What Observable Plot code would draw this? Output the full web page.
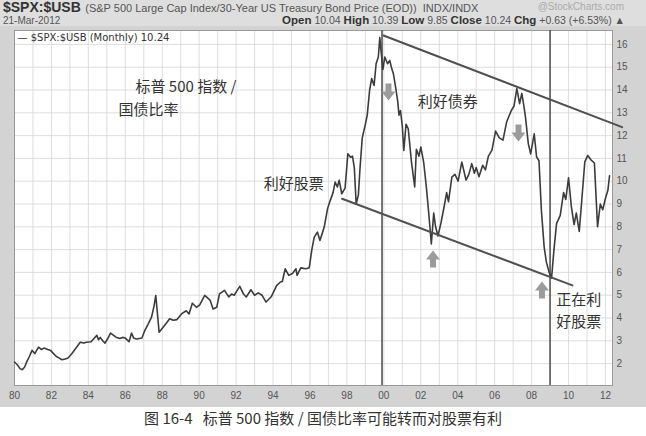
<!DOCTYPE html>
<html>
<head>
<meta charset="utf-8">
<script src="https://cdn.jsdelivr.net/npm/d3@7"></script>
<script src="https://cdn.jsdelivr.net/npm/@observablehq/plot@0.6"></script>
<style>
  html, body { margin: 0; padding: 0; background: #fff; }
  #page { position: relative; width: 646px; height: 436px; overflow: hidden; background: #fff; }
  #hdr { position: absolute; left: 0; top: 0; width: 646px; height: 26px; background: #dedede; font-family: "Liberation Sans", Arial, sans-serif; color: #444; }
  .l1 { position: absolute; left: 3px; top: -1px; height: 15px; line-height: 15px; white-space: nowrap; }
  .sym { font: bold 14px "Liberation Sans Narrow", "Liberation Sans", sans-serif; color: #333; line-height: 15px; }
  .desc { font-size: 11px; color: #555; line-height: 15px; }
  .brand { position: absolute; right: 22px; top: 1px; font-size: 10px; line-height: 12px; color: #aaa; white-space: nowrap; }
  .l2 { position: absolute; left: 3px; top: 16px; font-size: 10px; line-height: 10px; color: #555; white-space: nowrap; }
  .l2r { position: absolute; right: 21px; top: 15px; font-size: 10.5px; line-height: 11px; color: #555; white-space: nowrap; }
  .l2r b { font-size: 11.5px; color: #333; }
  #chart { position: absolute; left: 0; top: 26px; }
  #cap { position: absolute; left: 0; top: 407px; width: 646px; text-align: center; font-family: "Noto Sans CJK SC", sans-serif; font-size: 15px; color: #333; white-space: pre; }
</style>
</head>
<body>
<div id="page">
  <div id="hdr">
    <div class="l1"><span class="sym">$SPX:$USB</span> <span class="desc">(S&amp;P 500 Large Cap Index/30-Year US Treasury Bond Price (EOD))&nbsp;&nbsp;INDX/INDX</span></div>
    <div class="brand">@StockCharts.com</div>
    <div class="l2">21-Mar-2012</div>
    <div class="l2r"><b>Open</b> 10.04 <b>High</b> 10.39 <b>Low</b> 9.85 <b>Close</b> 10.24 <b>Chg</b> +0.63 (+6.53%) ▲</div>
  </div>
  <div id="chart"></div>
  <div id="cap">图 16-4   标普 500 指数 / 国债比率可能转而对股票有利</div>
</div>
<script>
// ---- data (decimal year, ratio) ----
const years = [
  1980.00,1980.15,1980.30,1980.42,1980.55,1980.65,1980.80,1980.95,1981.10,1981.30,1981.45,1981.60,1981.80,1981.95,
  1982.10,1982.25,1982.40,1982.57,1982.75,1982.90,1983.10,1983.30,1983.56,1983.75,1983.90,1984.15,1984.30,1984.46,
  1984.55,1984.64,1984.80,1984.90,1985.05,1985.20,1985.35,1985.50,1985.70,1985.85,1986.00,1986.20,1986.34,1986.45,
  1986.60,1986.90,1987.06,1987.25,1987.42,1987.55,1987.65,1987.75,1987.83,1988.05,1988.25,1988.40,1988.60,1988.80,
  1989.04,1989.30,1989.45,1989.63,1989.85,1990.03,1990.30,1990.50,1990.60,1990.75,1990.95,1991.10,1991.37,1991.60,
  1991.75,1991.90,1992.05,1992.20,1992.40,1992.55,1992.80,1993.00,1993.20,1993.40,1993.62,1993.90,1994.20,1994.40,
  1994.50,1994.66,1994.85,1995.05,1995.24,1995.30,1995.50,1995.78,1995.96,1996.10,1996.23,1996.40,1996.54,1996.77,
  1996.95,1997.10,1997.25,1997.36,1997.48,1997.58,1997.72,1997.90,1998.05,1998.20,1998.30,1998.40,1998.50,1998.62,
  1998.70,1998.83,1999.00,1999.10,1999.23,1999.34,1999.47,1999.58,1999.70,1999.78,1999.85,1999.95,2000.05,2000.20,
  2000.32,2000.42,2000.52,2000.65,2000.75,2000.82,2000.90,2001.00,2001.08,2001.20,2001.32,2001.50,2001.67,2001.76,
  2001.90,2002.00,2002.16,2002.30,2002.43,2002.57,2002.70,2002.80,2002.93,2003.10,2003.29,2003.40,2003.50,2003.68,
  2003.85,2004.02,2004.22,2004.45,2004.60,2004.76,2004.90,2005.00,2005.15,2005.35,2005.50,2005.66,2005.85,2006.05,
  2006.25,2006.45,2006.65,2006.90,2007.05,2007.20,2007.35,2007.47,2007.58,2007.67,2007.82,2007.95,2008.14,2008.27,
  2008.40,2008.53,2008.68,2008.80,2008.95,2009.08,2009.20,2009.35,2009.55,2009.73,2009.85,2010.00,2010.15,2010.30,
  2010.42,2010.58,2010.70,2010.88,2011.04,2011.20,2011.40,2011.57,2011.72,2011.85,2012.00,2012.13,2012.22
];
const ratio = [
  2.07,1.95,1.78,1.73,1.85,2.05,2.30,2.58,2.44,2.72,2.62,2.68,2.62,2.58,
  2.45,2.32,2.25,2.17,2.20,2.25,2.43,2.65,2.94,2.90,2.94,2.96,3.10,3.24,
  3.05,3.15,2.98,2.90,3.10,3.34,3.25,3.16,3.10,3.15,3.12,2.96,3.34,3.12,
  3.08,3.12,3.46,3.75,4.04,4.50,4.99,4.10,3.38,3.60,3.80,3.97,3.90,3.93,
  4.18,4.32,4.18,4.65,4.47,4.58,4.99,4.85,4.77,4.40,4.47,5.06,5.21,4.93,
  5.05,5.00,5.20,5.39,5.05,4.92,5.24,5.00,5.10,5.00,4.70,4.93,5.43,5.58,
  5.60,6.16,5.87,5.95,6.16,5.87,6.20,6.16,6.20,7.00,7.55,7.77,7.40,7.99,
  8.79,9.16,9.50,9.96,9.75,10.04,9.45,9.70,11.20,11.05,11.10,10.60,9.00,9.40,
  10.47,11.90,12.50,12.90,14.00,14.50,14.20,15.15,15.45,16.30,15.70,14.90,15.45,15.15,
  15.30,14.95,14.70,14.05,13.50,12.90,13.10,12.40,11.35,12.50,12.30,10.80,9.75,11.40,
  11.10,11.50,10.80,9.75,8.60,7.25,8.60,8.00,7.60,8.20,9.00,9.50,9.10,10.18,
  10.30,10.00,10.84,10.05,10.30,10.77,10.35,10.60,10.20,10.70,10.50,11.10,11.35,12.20,
  11.90,11.80,12.60,13.10,13.30,14.06,13.40,13.85,13.30,12.80,11.65,11.20,12.08,11.06,
  10.90,8.72,7.11,6.45,6.00,5.75,6.90,8.14,8.50,9.50,9.20,10.15,8.90,8.10,
  8.60,7.80,9.00,10.85,11.13,10.95,10.80,8.00,9.00,8.75,9.25,9.60,10.24
];

// axis ticks
const xTickYears = [1980,1982,1984,1986,1988,1990,1992,1994,1996,1998,2000,2002,2004,2006,2008,2010,2012];
const xGridYears = d3.range(1980, 2013);
const yTicks = [2,3,4,5,6,7,8,9,10,11,12,13,14,15,16];

// regime boundaries (vertical lines)
const boundaries = [1999.9, 2009.0];

// trend channel lines
const upperTrendX = [1999.98, 2012.90];
const upperTrendY = [16.39, 12.37];
const lowerTrendX = [1997.74, 2010.21];
const lowerTrendY = [9.23, 5.43];

// arrows
const downArrowX = [2000.25, 2007.29];
const downArrowY = [13.89, 12.09];
const upArrowX = [2002.66, 2008.56];
const upArrowY = [6.61, 5.25];

// annotation labels
const noteText = ["标普 500 指数 /", "国债比率", "利好债券", "利好股票", "正在利", "好股票"];
const noteX = [1986.55, 1985.63, 2001.84, 1993.50, 2009.34, 2009.34];
const noteY = [14.12, 13.10, 13.47, 9.89, 4.77, 3.80];

const legendText = "— $SPX:$USB (Monthly) 10.24";

// ---- build tables ----
const series = years.map((t, i) => ({t, v: ratio[i]}));
const upper = upperTrendX.map((t, i) => ({t, v: upperTrendY[i]}));
const lower = lowerTrendX.map((t, i) => ({t, v: lowerTrendY[i]}));
const downs = downArrowX.map((t, i) => ({t, v: downArrowY[i]}));
const ups = upArrowX.map((t, i) => ({t, v: upArrowY[i]}));
const notes = noteText.map((s, i) => ({s, t: noteX[i], v: noteY[i]}));

const downSym = {draw(ctx) {
  ctx.moveTo(-3, -9); ctx.lineTo(3, -9); ctx.lineTo(3, -1); ctx.lineTo(7, -1);
  ctx.lineTo(0, 8); ctx.lineTo(-7, -1); ctx.lineTo(-3, -1); ctx.closePath();
}};
const upSym = {draw(ctx) {
  ctx.moveTo(-3, 9); ctx.lineTo(3, 9); ctx.lineTo(3, 1); ctx.lineTo(7, 1);
  ctx.lineTo(0, -8); ctx.lineTo(-7, 1); ctx.lineTo(-3, 1); ctx.closePath();
}};

const chart = Plot.plot({
  width: 646,
  height: 381,
  marginTop: 4,
  marginBottom: 22,
  marginLeft: 14,
  marginRight: 34,
  style: {background: "#d3d3d3", fontFamily: "Liberation Sans, Arial, sans-serif", fontSize: "10px", color: "#555", overflow: "visible"},
  x: {domain: [1980, 2012.38]},
  y: {domain: [1.04, 16.61]},
  marks: [
    Plot.frame({fill: "white", stroke: "none"}),
    Plot.gridX({ticks: xGridYears, stroke: "#d6d6d6", strokeOpacity: 1, strokeWidth: 0.8}),
    Plot.gridY({ticks: yTicks, stroke: "#d6d6d6", strokeOpacity: 1, strokeWidth: 0.8}),
    Plot.frame({stroke: "#999"}),
    Plot.axisX({ticks: xTickYears, tickFormat: d => String(d % 100).padStart(2, "0"), tickSize: 0, tickPadding: 6, label: null, fill: "#555"}),
    Plot.axisY({anchor: "right", ticks: yTicks, tickSize: 0, tickPadding: 4, label: null, fill: "#555"}),
    Plot.ruleX(boundaries, {stroke: "#555", strokeWidth: 1.6}),
    Plot.line(series, {x: "t", y: "v", stroke: "#3c3c3c", strokeWidth: 1.6, strokeLinejoin: "round"}),
    Plot.line(upper, {x: "t", y: "v", stroke: "#505050", strokeWidth: 2}),
    Plot.line(lower, {x: "t", y: "v", stroke: "#505050", strokeWidth: 2}),
    Plot.dot(downs, {x: "t", y: "v", symbol: downSym, fill: "#9b9b9b", stroke: "none"}),
    Plot.dot(ups, {x: "t", y: "v", symbol: upSym, fill: "#9b9b9b", stroke: "none"}),
    Plot.text(notes, {x: "t", y: "v", text: "s", textAnchor: "start", fontFamily: "Noto Sans CJK SC", fontSize: 15, fill: "#333"}),
    Plot.text([legendText], {frameAnchor: "top-left", dx: 3, dy: 3, textAnchor: "start", lineAnchor: "top", fontFamily: "DejaVu Sans", fontSize: 10, fill: "#333"})
  ]
});
document.getElementById("chart").appendChild(chart);
</script>
</body>
</html>
